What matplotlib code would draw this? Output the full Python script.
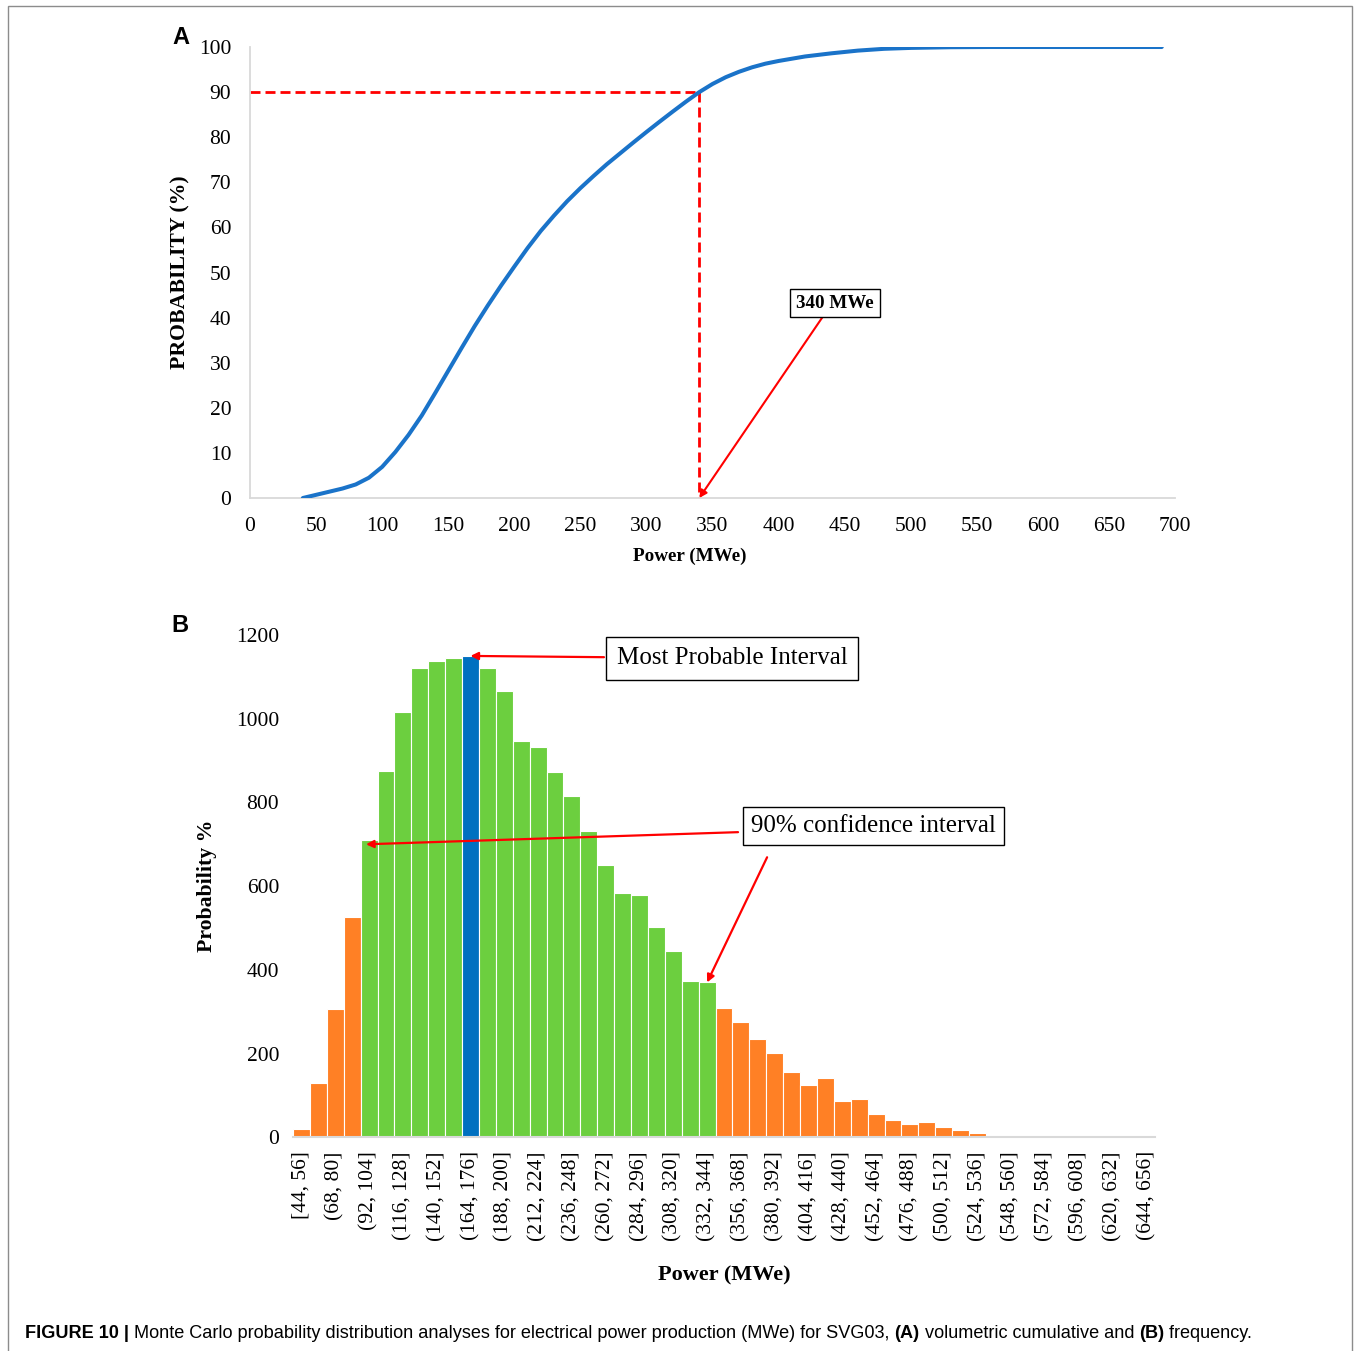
import matplotlib
matplotlib.use("Agg")
import matplotlib.pyplot as plt
from matplotlib.patches import Rectangle

W, H = 1356, 1351
SERIF = "Liberation Serif"
SANS = "Liberation Sans"

# (A) cumulative probability curve
power_mwe = [40, 50, 60, 70, 80, 90, 100, 110, 120, 130, 140, 150, 160, 170, 180,
             190, 200, 210, 220, 230, 240, 250, 260, 270, 280, 290, 300, 310, 320,
             330, 340, 350, 360, 370, 380, 390, 400, 420, 440, 460, 480, 500, 530,
             560, 690]
cum_prob = [0, 0.7, 1.4, 2.1, 3.0, 4.5, 6.9, 10.2, 14.0, 18.3, 23.2, 28.2, 33.2,
            38.1, 42.7, 47.1, 51.3, 55.4, 59.2, 62.6, 65.8, 68.7, 71.4, 74.0, 76.4,
            78.8, 81.15, 83.45, 85.7, 87.9, 90.0, 91.8, 93.3, 94.5, 95.5, 96.3, 96.9,
            97.9, 98.6, 99.2, 99.6, 99.8, 99.95, 100, 100]
p90_power = 340
p90_level = 90

# (B) frequency histogram, 12 MWe bins from 44 to 656
bin_edges = [44, 56, 68, 80, 92, 104, 116, 128, 140, 152, 164, 176, 188, 200,
             212, 224, 236, 248, 260, 272, 284, 296, 308, 320, 332, 344, 356,
             368, 380, 392, 404, 416, 428, 440, 452, 464, 476, 488, 500, 512,
             524, 536, 548, 560, 572, 584, 596, 608, 620, 632, 644, 656]
counts = [20, 129, 306, 526, 710, 875, 1015, 1120, 1139, 1145, 1150, 1120, 1067,
          946, 932, 872, 815, 732, 650, 583, 579, 503, 445, 374, 370, 308, 275,
          234, 202, 156, 126, 142, 86, 91, 55, 41, 31, 36, 24, 17, 10, 4, 0, 4,
          0, 0, 0, 0, 0, 0, 0]
ci_first, ci_last = 4, 24   # bins inside the 90% confidence interval
mode_bin = 10               # most probable interval

ORANGE = "#ff8025"
GREEN = "#6ccf3f"
BLUE = "#0070c0"
RED = "#ff0000"
GRID = "#d9d9d9"

fig = plt.figure(figsize=(W / 100, H / 100), dpi=100)

# ---------------- panel A ----------------
axA = fig.add_axes([250 / W, 1 - 498 / H, 925 / W, 451 / H])
axA.plot(power_mwe, cum_prob, color="#1a73c9", lw=2.9, solid_capstyle="round",
         solid_joinstyle="round", zorder=3)
axA.plot([0, p90_power], [p90_level, p90_level], color=RED, lw=2, ls=(0, (3.6, 1.8)), zorder=2)
axA.plot([p90_power, p90_power], [p90_level, 0], color=RED, lw=2, ls=(0, (3.6, 1.8)), zorder=2)
axA.set_xlim(0, 700)
axA.set_ylim(0, 100)
axA.set_xticks(range(0, 701, 50))
axA.set_yticks(range(0, 101, 10))
for s in ["top", "right"]:
    axA.spines[s].set_visible(False)
for s in ["left", "bottom"]:
    axA.spines[s].set_color(GRID)
    axA.spines[s].set_linewidth(1.3)
axA.tick_params(length=0, labelsize=15.5)
axA.tick_params(axis="x", pad=14)
axA.tick_params(axis="y", pad=13.5)
for lab in axA.get_xticklabels() + axA.get_yticklabels():
    lab.set_fontfamily(SERIF)

axA.annotate("", xy=(p90_power, 0), xytext=(433, 40),
             arrowprops=dict(arrowstyle="-|>", color=RED, lw=1.5, mutation_scale=11,
                             shrinkA=0, shrinkB=0))
axA.text(442.7, 43.2, "340 MWe", fontfamily=SERIF, fontweight="bold", fontsize=13.7,
         ha="center", va="center",
         bbox=dict(boxstyle="square,pad=0.3", fc="white", ec="black", lw=1))

fig.text(180 / W, 1 - 272 / H, "PROBABILITY (%)", rotation=90, fontfamily=SERIF,
         fontweight="bold", fontsize=15.7, ha="center", va="center")
fig.text(690 / W, 1 - 556 / H, "Power (MWe)", fontfamily=SERIF, fontweight="bold",
         fontsize=13.8, ha="center", va="center")
fig.text(181 / W, 1 - 37 / H, "A", fontfamily=SANS, fontweight="bold", fontsize=17,
         ha="center", va="center")

# ---------------- panel B ----------------
axB = fig.add_axes([293 / W, 1 - 1137.3 / H, 862 / W, 502.3 / H])
colors = []
for i in range(len(counts)):
    if i == mode_bin:
        colors.append(BLUE)
    elif ci_first <= i <= ci_last:
        colors.append(GREEN)
    else:
        colors.append(ORANGE)
xpos = list(range(len(counts)))
axB.bar(xpos, counts, width=1.0, color=colors, edgecolor="white", linewidth=0.8, zorder=2)
axB.set_xlim(-0.5, len(counts) - 0.5)
axB.set_ylim(0, 1200)
axB.set_yticks(range(0, 1201, 200))

labels = []
for i in range(len(counts)):
    lo, hi = bin_edges[i], bin_edges[i + 1]
    labels.append(f"[{lo}, {hi}]" if i == 0 else f"({lo}, {hi}]")
axB.set_xticks(xpos[::2])
axB.set_xticklabels(labels[::2], rotation=90, fontfamily=SERIF)
for lab in axB.get_yticklabels():
    lab.set_fontfamily(SERIF)
for s in ["top", "right", "left"]:
    axB.spines[s].set_visible(False)
axB.spines["bottom"].set_color(GRID)
axB.spines["bottom"].set_linewidth(1.5)
axB.tick_params(length=0, labelsize=15.5)
axB.tick_params(axis="x", pad=10)
axB.tick_params(axis="y", pad=10)

arrow = dict(arrowstyle="-|>", color=RED, lw=1.6, mutation_scale=11, shrinkA=0, shrinkB=0)
axB.text(25.48, 1145, "Most Probable Interval", fontfamily=SERIF, fontsize=18,
         ha="center", va="center",
         bbox=dict(boxstyle="square,pad=0.42", fc="white", ec="black", lw=1), zorder=5)
axB.annotate("", xy=(mode_bin, counts[mode_bin]), xytext=(17.9, 1147), arrowprops=arrow, zorder=4)

axB.text(33.82, 743.7, "90% confidence interval", fontfamily=SERIF, fontsize=18,
         ha="center", va="center",
         bbox=dict(boxstyle="square,pad=0.32", fc="white", ec="black", lw=1), zorder=5)
axB.annotate("", xy=(3.82, 700), xytext=(25.83, 729), arrowprops=arrow, zorder=4)
axB.annotate("", xy=(ci_last, counts[ci_last]), xytext=(27.55, 669), arrowprops=arrow, zorder=4)

fig.text(207 / W, 1 - 886 / H, "Probability %", rotation=90, fontfamily=SERIF,
         fontweight="bold", fontsize=15.7, ha="center", va="center")
fig.text(724 / W, 1 - 1275 / H, "Power (MWe)", fontfamily=SERIF, fontweight="bold",
         fontsize=16, ha="center", va="center")
fig.text(180 / W, 1 - 625 / H, "B", fontfamily=SANS, fontweight="bold", fontsize=17,
         ha="center", va="center")

# frame around the figure panels
fig.patches.append(Rectangle((8 / W, -0.01), (1352 - 8) / W, 1 - 6 / H + 0.01,
                             transform=fig.transFigure, fill=False,
                             edgecolor="#8c8c8c", lw=1))

# caption, written piece by piece so bold and regular runs sit side by side
caption = [("FIGURE 10 | ", "bold"),
           ("Monte Carlo probability distribution analyses for electrical power production (MWe) for SVG03, ", "normal"),
           ("(A)", "bold"), (" volumetric cumulative and ", "normal"),
           ("(B)", "bold"), (" frequency.", "normal")]
renderer = fig.canvas.get_renderer()
x = 25
for txt, weight in caption:
    t = fig.text(x / W, 1 - 1333 / H, txt, fontfamily=SANS, fontweight=weight,
                 fontsize=13.05, ha="left", va="center")
    x += t.get_window_extent(renderer).width

fig.savefig("out.png", dpi=100)
